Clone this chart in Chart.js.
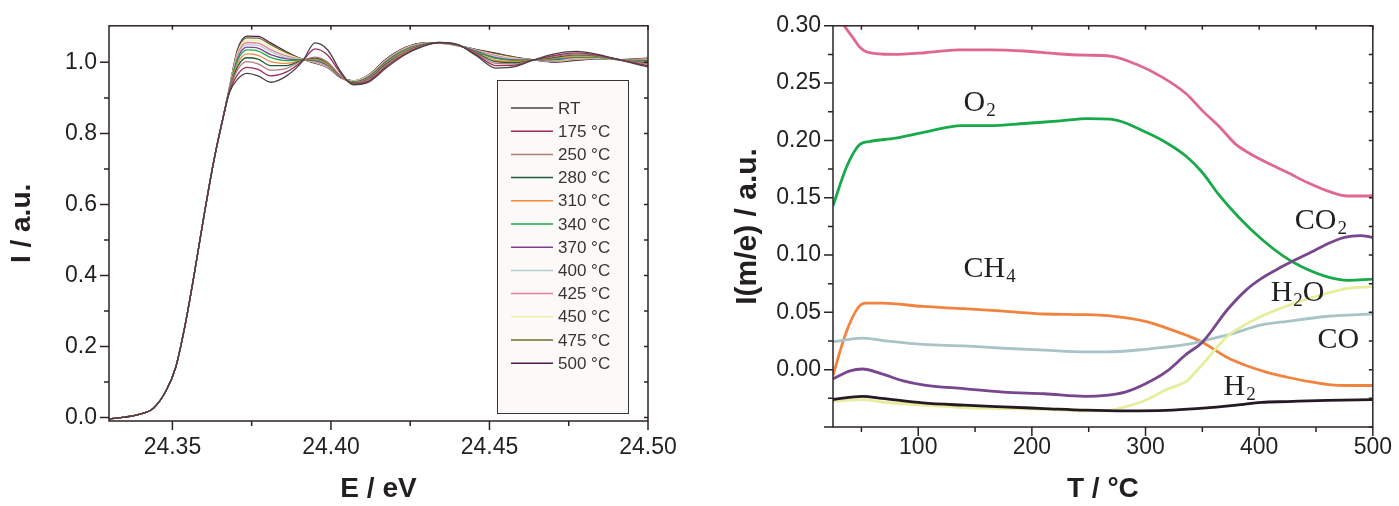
<!DOCTYPE html>
<html><head><meta charset="utf-8">
<script src="https://cdn.jsdelivr.net/npm/chart.js@4.4.1/dist/chart.umd.min.js"></script>
<style>
html,body{margin:0;padding:0;background:#fff;}
#wrap{position:relative;width:1399px;height:506px;overflow:hidden;background:#fff}
#c1{position:absolute;left:0;top:0}
#c2{position:absolute;left:700px;top:0}
</style></head><body>
<div id="wrap"><canvas id="c1" width="700" height="506"></canvas><canvas id="c2" width="699" height="506"></canvas></div>
<script>
// ---------- LEFT PANEL DATA (XANES) ----------
const energyEdge = [24.330,24.335,24.340,24.344,24.348,24.351,24.354,24.357,24.360,24.363,24.366];
const intensityEdge = [-0.004,0.001,0.010,0.026,0.075,0.140,0.260,0.410,0.570,0.720,0.845];
const energyTail = [24.368,24.3705,24.3735,24.377,24.381,24.386,24.391,24.395,24.399,24.403,24.407,24.412,24.4175,24.4235,24.429,24.434,24.440,24.446,24.452,24.458,24.464,24.4705,24.4775,24.4845,24.4915,24.500];
const tailRT  = [0.915,0.952,0.969,0.962,0.944,0.962,1.003,1.055,1.035,0.975,0.937,0.945,0.985,1.022,1.045,1.056,1.050,1.018,0.984,0.988,1.007,1.024,1.031,1.022,1.006,0.987];
const tail175 = [0.917,0.965,0.986,0.980,0.962,0.973,1.004,1.038,1.020,0.970,0.939,0.948,0.989,1.025,1.046,1.056,1.050,1.021,0.991,0.992,1.007,1.020,1.027,1.020,1.006,0.991];
const tail250 = [0.920,0.978,1.002,0.996,0.978,0.983,1.005,1.015,1.000,0.962,0.940,0.952,0.993,1.028,1.048,1.055,1.049,1.024,0.997,0.996,1.007,1.017,1.023,1.018,1.007,0.995];
const tail280 = [0.921,0.987,1.013,1.009,0.991,0.991,1.006,1.012,0.998,0.962,0.942,0.954,0.996,1.030,1.049,1.055,1.049,1.026,1.002,0.999,1.007,1.014,1.021,1.017,1.007,0.998];
const tail310 = [0.923,0.995,1.024,1.020,1.002,0.997,1.006,1.009,0.995,0.961,0.943,0.956,0.998,1.032,1.050,1.055,1.048,1.027,1.006,1.002,1.007,1.012,1.018,1.016,1.007,1.000];
const tail340 = [0.925,1.004,1.035,1.032,1.014,1.005,1.007,1.007,0.993,0.960,0.944,0.958,1.001,1.035,1.051,1.055,1.048,1.029,1.011,1.005,1.007,1.010,1.015,1.014,1.007,1.003];
const tail370 = [0.926,1.010,1.043,1.040,1.022,1.010,1.007,1.005,0.991,0.959,0.945,0.960,1.003,1.036,1.051,1.055,1.048,1.031,1.013,1.007,1.007,1.008,1.014,1.014,1.007,1.005];
const tail400 = [0.927,1.016,1.050,1.048,1.030,1.014,1.008,1.003,0.990,0.959,0.946,0.961,1.004,1.037,1.052,1.054,1.048,1.032,1.016,1.009,1.007,1.006,1.012,1.013,1.008,1.006];
const tail425 = [0.928,1.021,1.056,1.054,1.036,1.018,1.008,1.001,0.988,0.958,0.946,0.962,1.006,1.039,1.053,1.054,1.048,1.033,1.019,1.010,1.007,1.005,1.010,1.012,1.008,1.008];
const tail450 = [0.928,1.026,1.063,1.061,1.043,1.023,1.008,1.000,0.987,0.958,0.947,0.964,1.007,1.040,1.053,1.054,1.047,1.034,1.021,1.012,1.007,1.004,1.009,1.011,1.008,1.009];
const tail475 = [0.929,1.031,1.069,1.068,1.050,1.027,1.009,0.999,0.986,0.957,0.948,0.965,1.009,1.041,1.054,1.054,1.047,1.035,1.024,1.014,1.007,1.002,1.007,1.011,1.008,1.011];
const tail500 = [0.930,1.035,1.074,1.073,1.055,1.030,1.009,0.998,0.985,0.957,0.948,0.966,1.010,1.042,1.054,1.054,1.047,1.036,1.026,1.015,1.007,1.001,1.006,1.010,1.008,1.012];
const xanesLabels = ['RT','175 °C','250 °C','280 °C','310 °C','340 °C','370 °C','400 °C','425 °C','450 °C','475 °C','500 °C'];
const xanesTails = [tailRT,tail175,tail250,tail280,tail310,tail340,tail370,tail400,tail425,tail450,tail475,tail500];
const xanesColors = ['#4a4242','#9c2a5e','#b07c74','#1f5a3c','#f28a3c','#21a84c','#7d4090','#b3cbd0','#e67ea0','#eef2a8','#6e6a2e','#4a1d4e'];
const eMajorTicks = [24.35,24.40,24.45,24.50];
const eMinorTicks = [24.375,24.425,24.475];
const iMajorTicks = [0.0,0.2,0.4,0.6,0.8,1.0];
const iMinorTicks = [0.1,0.3,0.5,0.7,0.9];

// ---------- RIGHT PANEL DATA (MS signals) ----------
const tPink = [25,35,43,48,57,77,106,135,164,193,222,246,269,292,315,336,350,365,379,391,408,425,443,460,478,495,500];
const vPink = [0.318,0.300,0.289,0.282,0.2765,0.275,0.2765,0.279,0.279,0.278,0.2756,0.2744,0.2736,0.2664,0.255,0.2405,0.226,0.212,0.197,0.189,0.180,0.172,0.163,0.156,0.1515,0.1515,0.152];
const tO2 = [25,37,48,57,80,109,138,167,196,225,249,269,283,292,315,336,350,365,382,402,420,437,460,478,500];
const vO2 = [0.143,0.177,0.196,0.199,0.202,0.208,0.213,0.213,0.215,0.217,0.219,0.2185,0.215,0.211,0.200,0.186,0.172,0.152,0.133,0.114,0.100,0.090,0.081,0.078,0.079];
const tCH4 = [25,36,47,54,68,104,140,175,211,247,272,300,318,336,350,372,389,407,425,443,461,478,500];
const vCH4 = [-0.005,0.031,0.054,0.058,0.058,0.0552,0.0532,0.051,0.0486,0.048,0.0466,0.0422,0.0365,0.030,0.024,0.0106,0.0034,-0.0023,-0.0066,-0.0103,-0.013,-0.0138,-0.0138];
const tCO = [25,51,68,104,140,175,211,247,265,300,336,350,375,402,425,461,500];
const vCO = [0.0244,0.0275,0.0256,0.0221,0.0207,0.0187,0.017,0.0155,0.0155,0.0178,0.022,0.025,0.031,0.039,0.0422,0.0466,0.0486];
const tCO2 = [25,40,51,68,86,104,140,175,211,247,265,282,300,318,336,350,372,388,402,417,431,446,460,475,489,500];
const vCO2 = [-0.008,-0.001,0.0006,-0.0037,-0.0095,-0.0132,-0.0166,-0.0196,-0.021,-0.0233,-0.0224,-0.0196,-0.0123,-0.002,0.0135,0.024,0.0523,0.069,0.0796,0.0882,0.0954,0.1026,0.1097,0.1155,0.117,0.1155];
const tH2O = [25,51,68,104,140,175,211,247,265,282,300,318,336,345,354,359,373,388,402,431,460,478,500];
const vH2O = [-0.0275,-0.0261,-0.0282,-0.031,-0.033,-0.0339,-0.0347,-0.0359,-0.0359,-0.0325,-0.0267,-0.0175,-0.010,-0.001,0.009,0.015,0.030,0.0394,0.0466,0.058,0.0667,0.071,0.0724];
const tH2 = [25,51,68,104,140,175,211,247,282,318,345,380,402,425,460,500];
const vH2 = [-0.026,-0.0233,-0.025,-0.029,-0.031,-0.0325,-0.0339,-0.0353,-0.0359,-0.0355,-0.034,-0.031,-0.0285,-0.0278,-0.0268,-0.0262];
const tMajorTicks = [100,200,300,400,500];
const tMinorTicks = [50,150,250,350,450];
const sMajorTicks = [-0.05,0.00,0.05,0.10,0.15,0.20,0.25,0.30];
const sMinorTicks = [-0.025,0.025,0.075,0.125,0.175,0.225,0.275];
const speciesLabels = [
  {main:'O', sub:'2', tail:'', t:139.8, v:0.2259},
  {main:'CH', sub:'4', tail:'', t:139.8, v:0.081},
  {main:'CO', sub:'2', tail:'', t:431.3, v:0.1227},
  {main:'H', sub:'2', tail:'O', t:410.1, v:0.0603},
  {main:'CO', sub:'', tail:'', t:451.3, v:0.0192},
  {main:'H', sub:'2', tail:'', t:368.6, v:-0.0224}
];

// ---------- helpers ----------
const SANS = "'Liberation Sans', Arial, sans-serif";
const SERIF = "'Liberation Serif', 'Times New Roman', serif";
const INK = '#231f20';
const toPts = (xs, ys) => xs.map((x, i) => ({x, y: ys[i]}));
const tickList = (maj, min) => maj.map(v => ({value: v, isMajor: true})).concat(min.map(v => ({value: v, isMajor: false}))).sort((a, b) => a.value - b.value);

const frameTicks = {
  id: 'frameTicks',
  afterDraw(chart, args, o) {
    const {ctx, chartArea: a} = chart;
    const x = chart.scales.x, y = chart.scales.y;
    ctx.save();
    ctx.strokeStyle = o.color;
    ctx.lineWidth = o.width;
    ctx.lineCap = 'butt';
    ctx.beginPath();
    const seg = (x1, y1, x2, y2) => { ctx.moveTo(x1, y1); ctx.lineTo(x2, y2); };
    o.xTicks.forEach(t => {
      const p = x.getPixelForValue(t.value);
      const len = t.isMajor ? o.major : o.minor;
      seg(p, a.bottom, p, a.bottom + len);
      seg(p, a.top, p, a.top + o.inner);
    });
    o.yTicks.forEach(t => {
      const p = y.getPixelForValue(t.value);
      const len = t.isMajor ? o.major : o.minor;
      seg(a.left, p, a.left - len, p);
      seg(a.right, p, a.right - o.inner, p);
    });
    ctx.stroke();
    ctx.strokeRect(a.left, a.top, a.right - a.left, a.bottom - a.top);
    ctx.restore();
  }
};

const boxLegend = {
  id: 'boxLegend',
  afterDraw(chart, args, o) {
    if (!o.enabled) return;
    const {ctx} = chart;
    ctx.save();
    ctx.fillStyle = o.fill;
    ctx.fillRect(o.left, o.top, o.width, o.height);
    ctx.strokeStyle = o.border;
    ctx.lineWidth = 1;
    ctx.strokeRect(o.left + 0.5, o.top + 0.5, o.width, o.height);
    ctx.font = o.fontSize + 'px ' + SANS;
    ctx.textBaseline = 'middle';
    chart.data.datasets.forEach((ds, i) => {
      const yy = o.firstY + i * o.step;
      ctx.strokeStyle = ds.borderColor;
      ctx.lineWidth = 1.5;
      ctx.beginPath(); ctx.moveTo(o.lineX1, yy); ctx.lineTo(o.lineX2, yy); ctx.stroke();
      ctx.fillStyle = '#3a3335';
      ctx.fillText(ds.label, o.textX, yy + 1);
    });
    ctx.restore();
  }
};

const species = {
  id: 'species',
  afterDatasetsDraw(chart, args, o) {
    if (!o.items) return;
    const {ctx} = chart;
    const x = chart.scales.x, y = chart.scales.y;
    ctx.save();
    ctx.fillStyle = INK;
    ctx.textBaseline = 'alphabetic';
    o.items.forEach(it => {
      let px = x.getPixelForValue(it.t);
      const py = y.getPixelForValue(it.v);
      ctx.font = o.size + 'px ' + SERIF;
      ctx.fillText(it.main, px, py);
      px += ctx.measureText(it.main).width;
      if (it.sub) {
        ctx.font = o.subSize + 'px ' + SERIF;
        ctx.fillText(it.sub, px + 1, py + o.subDrop);
        px += ctx.measureText(it.sub).width + 1;
      }
      if (it.tail) {
        ctx.font = o.size + 'px ' + SERIF;
        ctx.fillText(it.tail, px, py);
      }
    });
    ctx.restore();
  }
};

function axisCommon(fixedSize, isX, ticks, fmt, pad, title, titleSize, titlePad) {
  return {
    type: 'linear',
    grid: {display: false, drawTicks: false},
    border: {display: false},
    afterFit(s) { if (isX) s.height = fixedSize; else s.width = fixedSize; },
    afterBuildTicks(s) { s.ticks = ticks.map(t => ({value: t.value, isMajor: t.isMajor})); },
    ticks: {
      autoSkip: false, maxRotation: 0, minRotation: 0, padding: pad,
      color: INK, font: {family: SANS, size: 23},
      callback: (v, i, arr) => (arr[i] && arr[i].isMajor) ? fmt(v) : ''
    },
    title: {display: true, text: title, color: INK, font: {family: SANS, size: titleSize, weight: 'bold'}, padding: titlePad}
  };
}

Chart.register(frameTicks, boxLegend, species);

// ---------- LEFT CHART ----------
const eAll = energyEdge.concat(energyTail);
const xTicksL = tickList(eMajorTicks, eMinorTicks);
const yTicksL = tickList(iMajorTicks, iMinorTicks);
new Chart(document.getElementById('c1'), {
  type: 'line',
  data: {
    datasets: xanesTails.map((tail, i) => ({
      label: xanesLabels[i],
      data: toPts(eAll, intensityEdge.concat(tail)),
      borderColor: xanesColors[i],
      borderWidth: 1.3,
      pointRadius: 0,
      cubicInterpolationMode: 'monotone',
      fill: false
    }))
  },
  options: {
    responsive: false, animation: false, events: [],
    layout: {padding: {left: 0, right: 52, top: 20, bottom: 0}},
    scales: {
      x: Object.assign(axisCommon(85, true, xTicksL, v => v.toFixed(2), 13, 'E / eV', 28, {top: 0, bottom: 0}), {min: 24.33, max: 24.50}),
      y: Object.assign(axisCommon(109, false, yTicksL, v => v.toFixed(1), 12, 'I / a.u.', 28, {top: 5, bottom: 0}), {min: -0.01, max: 1.103})
    },
    plugins: {
      legend: {display: false}, tooltip: {enabled: false},
      frameTicks: {color: '#2b2326', width: 1.5, major: 9, minor: 5, inner: 4, xTicks: xTicksL, yTicks: yTicksL},
      boxLegend: {enabled: true, left: 497, top: 80, width: 131, height: 333, fill: '#fcfaf8', border: '#3a3335',
        firstY: 108, step: 23.2, lineX1: 511, lineX2: 553, textX: 558, fontSize: 17},
      species: {}
    }
  }
});

// ---------- RIGHT CHART ----------
const xTicksR = tickList(tMajorTicks, tMinorTicks);
const yTicksR = tickList(sMajorTicks, sMinorTicks);
const msSeries = [
  {label: 'H2', t: tH2, v: vH2, color: '#251a24'},
  {label: 'CO2', t: tCO2, v: vCO2, color: '#77468f'},
  {label: 'H2O', t: tH2O, v: vH2O, color: '#e6ee9c'},
  {label: 'CO', t: tCO, v: vCO, color: '#a9c4c7'},
  {label: 'CH4', t: tCH4, v: vCH4, color: '#f0843f'},
  {label: 'O2', t: tO2, v: vO2, color: '#17a94a'},
  {label: 'm/e 32 ref', t: tPink, v: vPink, color: '#e0678e'}
];
new Chart(document.getElementById('c2'), {
  type: 'line',
  data: {
    datasets: msSeries.map(s => ({
      label: s.label,
      data: toPts(s.t, s.v),
      borderColor: s.color,
      borderWidth: 2.8,
      pointRadius: 0,
      cubicInterpolationMode: 'monotone',
      fill: false
    }))
  },
  options: {
    responsive: false, animation: false, events: [],
    layout: {padding: {left: 0, right: 20, top: 21, bottom: 0}},
    scales: {
      x: Object.assign(axisCommon(79, true, xTicksR, v => String(Math.round(v)), 7, 'T / °C', 28, {top: 0, bottom: 0}), {min: 25, max: 500}),
      y: Object.assign(axisCommon(133, false, yTicksR, v => (v < -0.001 ? '' : v.toFixed(2)), 12, 'I(m/e) / a.u.', 30, {top: 30, bottom: 0}), {min: -0.05, max: 0.30})
    },
    plugins: {
      legend: {display: false}, tooltip: {enabled: false},
      frameTicks: {color: '#2b2326', width: 1.5, major: 9, minor: 5, inner: 4, xTicks: xTicksR, yTicks: yTicksR},
      boxLegend: {enabled: false},
      species: {items: speciesLabels, size: 30, subSize: 19, subDrop: 5}
    }
  }
});
</script>
</body></html>
